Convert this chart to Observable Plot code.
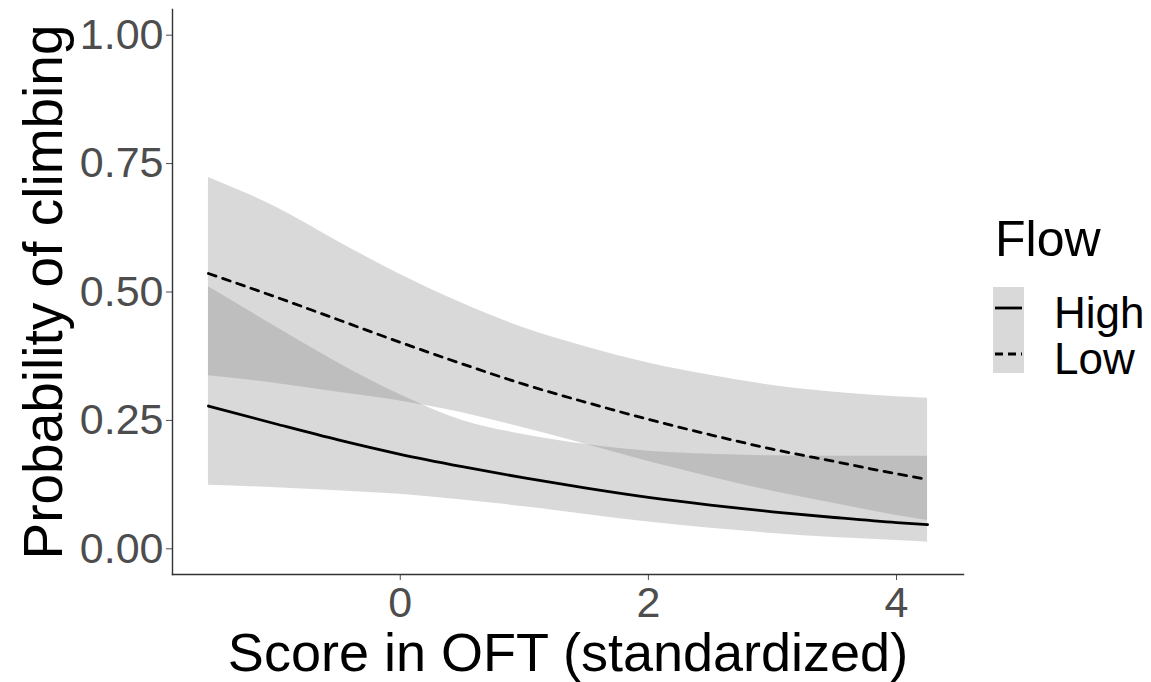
<!DOCTYPE html>
<html><head><meta charset="utf-8">
<script src="https://cdn.jsdelivr.net/npm/d3@7"></script>
<script src="https://cdn.jsdelivr.net/npm/@observablehq/plot@0.6"></script>
<style>
body{margin:0;background:#fff;}
#wrap{width:1151px;height:682px;}
</style></head><body><div id="wrap"></div>
<script>
// Data
const xs      = [-1.546, -1, -0.5, 0, 0.5, 1, 1.5, 2, 2.5, 3, 3.5, 4, 4.25];
const highFit = [0.278, 0.243, 0.212, 0.184, 0.160, 0.138, 0.118, 0.100, 0.085, 0.072, 0.061, 0.051, 0.047];
const highLo  = [0.124, 0.119, 0.113, 0.106, 0.095, 0.082, 0.067, 0.052, 0.040, 0.030, 0.022, 0.016, 0.013];
const highHi  = [0.510, 0.432, 0.362, 0.300, 0.250, 0.222, 0.203, 0.190, 0.184, 0.181, 0.180, 0.180, 0.180];
const lowFit  = [0.536, 0.490, 0.446, 0.402, 0.360, 0.320, 0.285, 0.252, 0.222, 0.194, 0.170, 0.146, 0.135];
const lowLo   = [0.337, 0.322, 0.305, 0.288, 0.265, 0.235, 0.203, 0.170, 0.140, 0.112, 0.088, 0.065, 0.055];
const lowHi   = [0.723, 0.665, 0.598, 0.534, 0.478, 0.430, 0.393, 0.362, 0.338, 0.318, 0.305, 0.296, 0.293];
const flows   = ["High", "Low"];
const yTicks  = [0, 0.25, 0.5, 0.75, 1];
const xTicks  = [0, 2, 4];
const xTitle  = "Score in OFT (standardized)";
const yTitle  = "Probability of climbing";
const legendTitle = "Flow";

const series = {
  High: {fit: highFit, lo: highLo, hi: highHi},
  Low:  {fit: lowFit,  lo: lowLo,  hi: lowHi}
};
const data = flows.flatMap(f => xs.map((x, i) => ({
  x, flow: f, fit: series[f].fit[i], lo: series[f].lo[i], hi: series[f].hi[i]
})));

const ext = d3.extent(xs);
const pad = 0.05 * (ext[1] - ext[0]);
const font = "'Liberation Sans', Arial, sans-serif";
const dash = {High: null, Low: "8,7"};

const chart = Plot.plot({
  width: 1151, height: 682,
  marginLeft: 172, marginRight: 188, marginTop: 9, marginBottom: 108,
  style: {fontFamily: font, background: "white", color: "black"},
  x: {domain: [ext[0] - pad, ext[1] + pad]},
  y: {domain: [-0.05, 1.05]},
  marks: [
    Plot.areaY(data, {x: "x", y1: "lo", y2: "hi", z: "flow", fill: "#808080", fillOpacity: 0.3, curve: "monotone-x"}),
    ...flows.map(f => Plot.line(data.filter(d => d.flow === f), {
      x: "x", y: "fit", stroke: "black", strokeWidth: 2.8, curve: "monotone-x",
      strokeDasharray: dash[f]
    })),
    Plot.axisY({ticks: yTicks, tickFormat: d3.format(".2f"), fontSize: 43, tickSize: 6, tickPadding: 3, color: "#4d4d4d", label: null}),
    Plot.axisX({ticks: xTicks, tickFormat: d3.format("d"), fontSize: 43, tickSize: 6, tickPadding: 6, color: "#4d4d4d", label: null}),
    Plot.frame({anchor: "left", stroke: "#333", strokeWidth: 1.4}),
    Plot.frame({anchor: "bottom", stroke: "#333", strokeWidth: 1.4}),
    Plot.text([xTitle], {text: d => d, frameAnchor: "bottom", dy: 79, fontSize: 54, fill: "black", lineAnchor: "middle", textAnchor: "middle"}),
    Plot.text([yTitle], {text: d => d, frameAnchor: "left", rotate: -90, dx: -128, fontSize: 55, fill: "black", lineAnchor: "middle", textAnchor: "middle"})
  ]
});
document.getElementById("wrap").appendChild(chart);

// Legend (drawn into the same SVG)
const svg = d3.select(chart);
const lg = svg.append("g").attr("font-family", font).attr("fill", "black").attr("text-anchor", "start");
lg.append("text").attr("x", 995).attr("y", 256).attr("font-size", 50).text(legendTitle);
lg.append("rect").attr("x", 993).attr("y", 287).attr("width", 31).attr("height", 86)
  .attr("fill", "#808080").attr("fill-opacity", 0.3);
flows.forEach((f, i) => {
  const cy = 308 + i * 46;
  lg.append("line").attr("x1", 995).attr("x2", 1022).attr("y1", cy).attr("y2", cy)
    .attr("stroke", "black").attr("stroke-width", 2.8)
    .attr("stroke-dasharray", dash[f] ? "8,5" : null);
  lg.append("text").attr("x", 1054).attr("y", cy + 20).attr("font-size", 44).text(f);
});
</script>
</body></html>
